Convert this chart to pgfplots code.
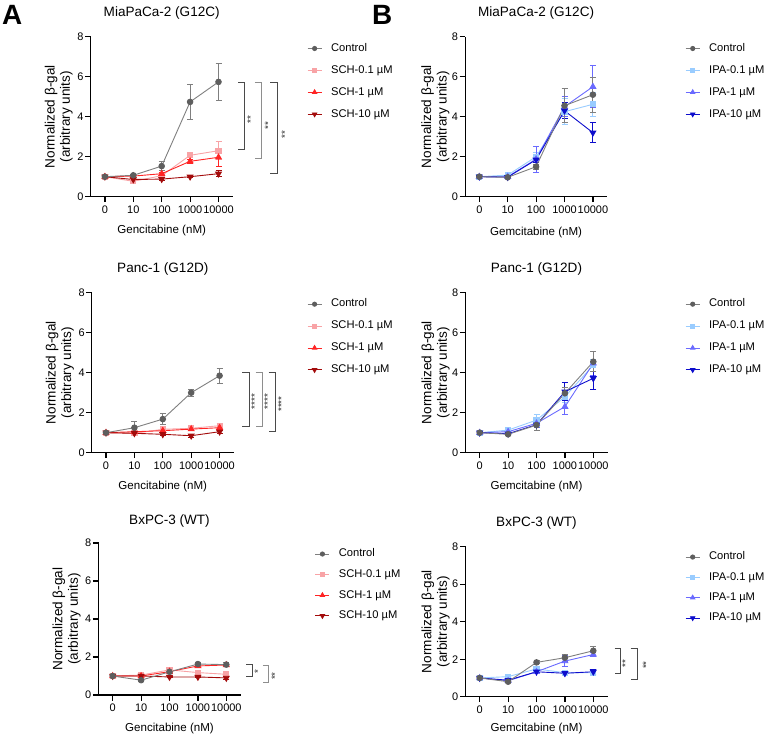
\documentclass[border=0pt]{standalone}
\usepackage{pgfplots}
\pgfplotsset{compat=1.18}
\usepackage{fontspec}
\setmainfont{Liberation Sans}

\definecolor{ctrlline}{HTML}{7F7F7F}
\definecolor{ctrlmark}{HTML}{5E5E5E}
\definecolor{s01}{HTML}{F8A3A6}
\definecolor{s1}{HTML}{FF2424}
\definecolor{s10}{HTML}{A30B0B}
\definecolor{i01}{HTML}{99CCFF}
\definecolor{i1}{HTML}{6A6AFF}
\definecolor{i10}{HTML}{0D0DCC}
\definecolor{brkA}{HTML}{4A4A4A}
\definecolor{brkB}{HTML}{8E8E8E}

\newcommand\fTitle{\fontsize{13.6}{15}\selectfont}
\newcommand\fYlab{\fontsize{13.6}{15.5}\selectfont}
\newcommand\fXlab{\fontsize{11.6}{13}\selectfont}
\newcommand\fTick{\fontsize{11}{12}\selectfont}
\newcommand\fLeg{\fontsize{11.2}{12}\selectfont}
\newcommand\fStar{\fontsize{10}{10}\selectfont}

\pgfplotsset{
  base/.style={
    scale only axis, width=142bp, height=160bp,
    xmin=-0.5, xmax=4.5, ymin=0, ymax=8, clip=false,
    axis x line*=bottom, axis y line*=left,
    axis line style={line width=1.2bp, black, -},
    xtick={0,1,2,3,4}, xticklabels={0,10,100,1000,10000},
    ytick={0,2,4,6,8},
    tick align=outside, major tick length=5.5bp,
    major tick style={line width=1.2bp, black},
    tick label style={font=\fTick},
    /pgf/number format/assume math mode=true,
    xticklabel style={inner sep=3.5bp},
    yticklabel style={inner sep=1.5bp},
    ylabel={Normalized β-gal\\(arbitrary units)},
    ylabel style={align=center, font=\fYlab, at={(axis description cs:-0.225,0.5)}, anchor=center},
    title style={font=\fTitle, at={(axis description cs:0.5,1)}, anchor=center, yshift=18bp},
    xlabel style={font=\fXlab, at={(axis description cs:0.5,0)}, anchor=center, yshift=-34bp},
    legend cell align=left,
    legend style={draw=none, fill=none, font=\fLeg, anchor=north west, inner sep=0pt,
      row sep=11.5bp, column sep=9bp,
      nodes={inner sep=0pt, text height=8bp, text depth=2.4bp}},
    legend image code/.code={\draw[mark repeat=2, mark phase=2, #1, every mark/.append style={scale=0.75}]
      plot coordinates {(0bp,0bp) (7bp,0bp) (14bp,0bp)};},
  },
  ctrl/.style={color=ctrlline, line width=0.9bp, mark=*, mark size=2.8bp, mark options={solid, draw=ctrlmark, fill=ctrlmark}},
  sA/.style={color=s01, line width=0.9bp, mark=square*, mark size=2.6bp, mark options={solid, fill=s01}},
  sB/.style={color=s1, line width=0.9bp, mark=triangle*, mark size=3.3bp, mark options={solid, fill=s1}},
  sC/.style={color=s10, line width=0.9bp, mark=triangle*, mark size=3.3bp, mark options={solid, fill=s10, rotate=180}},
  iA/.style={color=i01, line width=0.9bp, mark=square*, mark size=2.6bp, mark options={solid, fill=i01}},
  iB/.style={color=i1, line width=0.9bp, mark=triangle*, mark size=3.3bp, mark options={solid, fill=i1}},
  iC/.style={color=i10, line width=0.9bp, mark=triangle*, mark size=3.3bp, mark options={solid, fill=i10, rotate=180}},
  eb/.style={/pgfplots/error bars/y dir=both, /pgfplots/error bars/y explicit,
    /pgfplots/error bars/error bar style={line width=0.9bp},
    /pgfplots/error bars/error mark options={rotate=90, mark size=3bp, line width=0.9bp}},
}
\tikzset{brk/.style={draw=brkA, line width=1bp}, brk2/.style={draw=brkB, line width=1bp},
  star/.style={font=\fStar, rotate=90, inner sep=0pt, text=black!80}}

\begin{document}
\begin{tikzpicture}
\useasboundingbox (0,0) rectangle (768bp,-737bp);

\node[anchor=north west, inner sep=0pt, font=\fontsize{28}{28}\selectfont\bfseries] at (2bp,-5bp) {A};
\node[anchor=north west, inner sep=0pt, font=\fontsize{28}{28}\selectfont\bfseries] at (372bp,-5bp) {B};

% ---------------- A1 ----------------
\begin{axis}[base, at={(90.7bp,-196.7bp)}, anchor=south west,
  title={MiaPaCa-2 (G12C)}, xlabel={Gencitabine (nM)},
  legend style={at={(1.523,0.96)}}]
\addlegendimage{ctrl}\addlegendentry{Control}
\addplot[sA, eb] coordinates {(0,1.0) +- (0,0.08) (1,0.77) +- (0,0.05) (2,1.05) +- (0,0.1) (3,2.07) +- (0,0.1) (4,2.3) +- (0,0.45)};
\addlegendentry{SCH-0.1 µM}
\addplot[sB, eb] coordinates {(0,1.0) +- (0,0.05) (1,1.03) +- (0,0.05) (2,1.15) +- (0,0.08) (3,1.77) +- (0,0.1) (4,1.97) +- (0,0.44)};
\addlegendentry{SCH-1 µM}
\addplot[sC, eb] coordinates {(0,1.0) +- (0,0.05) (1,0.86) +- (0,0.05) (2,0.88) +- (0,0.08) (3,1.0) +- (0,0.05) (4,1.15) +- (0,0.15)};
\addlegendentry{SCH-10 µM}
\addplot[ctrl, eb, forget plot] coordinates {(0,1.0) +- (0,0.08) (1,1.07) +- (0,0.05) (2,1.53) +- (0,0.22) (3,4.74) +- (0,0.86) (4,5.74) +- (0,0.92)};
\draw[brk] (axis cs:4.69,5.7) -| (axis cs:4.93,2.37) -- (axis cs:4.69,2.37);
\draw[brk2] (axis cs:5.28,5.7) -| (axis cs:5.52,1.92) -- (axis cs:5.28,1.92);
\draw[brk] (axis cs:5.83,5.7) -| (axis cs:6.07,1.14) -- (axis cs:5.83,1.14);
\node[star] at (axis cs:5.13,3.84) {**};
\node[star] at (axis cs:5.75,3.54) {**};
\node[star] at (axis cs:6.34,3.09) {**};
\end{axis}

% ---------------- A2 ----------------
\begin{axis}[base, at={(91.8bp,-452.7bp)}, anchor=south west,
  title={Panc-1 (G12D)}, xlabel={Gencitabine (nM)},
  legend style={at={(1.515,0.962)}}]
\addlegendimage{ctrl}\addlegendentry{Control}
\addplot[sA, eb] coordinates {(0,1.0) +- (0,0.05) (1,0.97) +- (0,0.1) (2,1.17) +- (0,0.1) (3,1.22) +- (0,0.08) (4,1.35) +- (0,0.1)};
\addlegendentry{SCH-0.1 µM}
\addplot[sB, eb] coordinates {(0,1.0) +- (0,0.05) (1,1.05) +- (0,0.05) (2,1.1) +- (0,0.05) (3,1.18) +- (0,0.05) (4,1.25) +- (0,0.05)};
\addlegendentry{SCH-1 µM}
\addplot[sC, eb] coordinates {(0,1.0) +- (0,0.05) (1,0.97) +- (0,0.05) (2,0.92) +- (0,0.08) (3,0.85) +- (0,0.08) (4,1.05) +- (0,0.08)};
\addlegendentry{SCH-10 µM}
\addplot[ctrl, eb, forget plot] coordinates {(0,1.0) +- (0,0.05) (1,1.25) +- (0,0.33) (2,1.68) +- (0,0.28) (3,3.0) +- (0,0.17) (4,3.85) +- (0,0.38)};
\draw[brk] (axis cs:4.80,4.0) -| (axis cs:5.07,1.33) -- (axis cs:4.80,1.33);
\draw[brk2] (axis cs:5.27,4.0) -| (axis cs:5.51,1.33) -- (axis cs:5.27,1.33);
\draw[brk] (axis cs:5.73,4.0) -| (axis cs:5.98,1.05) -- (axis cs:5.73,1.05);
\node[star] at (axis cs:5.24,2.55) {****};
\node[star] at (axis cs:5.69,2.55) {****};
\node[star] at (axis cs:6.18,2.43) {****};
\end{axis}

% ---------------- A3 ----------------
\begin{axis}[base, at={(98.5bp,-695bp)}, anchor=south west, height=152bp,
  title={BxPC-3 (WT)}, xlabel={Gencitabine (nM)},
  title style={yshift=-1.7bp},
  xlabel style={yshift=0.4bp},
  legend style={at={(1.523,0.963)}, row sep=10.2bp}]
\addlegendimage{ctrl}\addlegendentry{Control}
\addplot[sA, eb] coordinates {(0,1.0) +- (0,0.05) (1,1.05) +- (0,0.05) (2,1.32) +- (0,0.08) (3,1.18) +- (0,0.1) (4,1.09) +- (0,0.1)};
\addlegendentry{SCH-0.1 µM}
\addplot[sB, eb] coordinates {(0,1.0) +- (0,0.05) (1,1.0) +- (0,0.05) (2,1.23) +- (0,0.05) (3,1.53) +- (0,0.1) (4,1.58) +- (0,0.05)};
\addlegendentry{SCH-1 µM}
\addplot[sC, eb] coordinates {(0,1.0) +- (0,0.05) (1,1.0) +- (0,0.05) (2,0.95) +- (0,0.05) (3,0.95) +- (0,0.05) (4,0.9) +- (0,0.06)};
\addlegendentry{SCH-10 µM}
\addplot[ctrl, eb, forget plot] coordinates {(0,1.0) +- (0,0.05) (1,0.78) +- (0,0.05) (2,1.22) +- (0,0.1) (3,1.63) +- (0,0.08) (4,1.6) +- (0,0.12)};
\draw[brk] (axis cs:4.71,1.62) -| (axis cs:4.93,0.96) -- (axis cs:4.71,0.96);
\draw[brk2] (axis cs:5.29,1.53) -| (axis cs:5.50,0.67) -- (axis cs:5.29,0.67);
\node[star] at (axis cs:5.11,1.23) {*};
\node[star] at (axis cs:5.71,1.0) {**};
\end{axis}

% ---------------- B1 ----------------
\begin{axis}[base, at={(465.1bp,-196.7bp)}, anchor=south west,
  title={MiaPaCa-2 (G12C)}, xlabel={Gemcitabine (nM)},
  ylabel style={at={(axis description cs:-0.21,0.5)}},
  title style={yshift=-0.6bp}, xlabel style={yshift=-1.9bp},
  legend style={at={(1.549,0.96)}}]
\addlegendimage{ctrl}\addlegendentry{Control}
\addplot[iA, eb] coordinates {(0,1.0) +- (0,0.05) (1,1.08) +- (0,0.05) (2,2.0) +- (0,0.2) (3,4.25) +- (0,0.65) (4,4.62) +- (0,0.6)};
\addlegendentry{IPA-0.1 µM}
\addplot[iB, eb] coordinates {(0,1.0) +- (0,0.05) (1,1.0) +- (0,0.05) (2,1.88) +- (0,0.65) (3,4.5) +- (0,0.5) (4,5.5) +- (0,1.05)};
\addlegendentry{IPA-1 µM}
\addplot[iC, eb] coordinates {(0,1.0) +- (0,0.05) (1,0.98) +- (0,0.05) (2,1.85) +- (0,0.15) (3,4.3) +- (0,0.4) (4,3.2) +- (0,0.5)};
\addlegendentry{IPA-10 µM}
\addplot[ctrl, eb, forget plot] coordinates {(0,1.0) +- (0,0.08) (1,0.97) +- (0,0.05) (2,1.5) +- (0,0.12) (3,4.55) +- (0,0.85) (4,5.1) +- (0,0.88)};
\end{axis}

% ---------------- B2 ----------------
\begin{axis}[base, at={(465.5bp,-452.7bp)}, anchor=south west,
  title={Panc-1 (G12D)}, xlabel={Gemcitabine (nM)},
  ylabel style={at={(axis description cs:-0.21,0.5)}},
  legend style={at={(1.546,0.962)}}]
\addlegendimage{ctrl}\addlegendentry{Control}
\addplot[iA, eb] coordinates {(0,1.0) +- (0,0.05) (1,1.13) +- (0,0.05) (2,1.63) +- (0,0.3) (3,2.8) +- (0,0.3) (4,4.38) +- (0,0.3)};
\addlegendentry{IPA-0.1 µM}
\addplot[iB, eb] coordinates {(0,1.0) +- (0,0.05) (1,1.05) +- (0,0.05) (2,1.47) +- (0,0.2) (3,2.3) +- (0,0.38) (4,4.47) +- (0,0.6)};
\addlegendentry{IPA-1 µM}
\addplot[iC, eb] coordinates {(0,1.0) +- (0,0.05) (1,0.95) +- (0,0.05) (2,1.4) +- (0,0.3) (3,3.05) +- (0,0.45) (4,3.72) +- (0,0.55)};
\addlegendentry{IPA-10 µM}
\addplot[ctrl, eb, forget plot] coordinates {(0,1.0) +- (0,0.05) (1,0.92) +- (0,0.05) (2,1.38) +- (0,0.25) (3,2.97) +- (0,0.3) (4,4.55) +- (0,0.5)};
\end{axis}

% ---------------- B3 ----------------
\begin{axis}[base, at={(465.5bp,-696.7bp)}, anchor=south west, height=150bp,
  title={BxPC-3 (WT)}, xlabel={Gemcitabine (nM)},
  ylabel style={at={(axis description cs:-0.21,0.5)}},
  title style={yshift=-0.6bp}, xlabel style={yshift=2.1bp},
  legend style={at={(1.546,0.967)}, row sep=9.9bp}]
\addlegendimage{ctrl}\addlegendentry{Control}
\addplot[iA, eb] coordinates {(0,1.0) +- (0,0.05) (1,1.07) +- (0,0.05) (2,1.48) +- (0,0.15) (3,1.28) +- (0,0.1) (4,1.28) +- (0,0.15)};
\addlegendentry{IPA-0.1 µM}
\addplot[iB, eb] coordinates {(0,1.0) +- (0,0.05) (1,0.85) +- (0,0.05) (2,1.33) +- (0,0.1) (3,1.9) +- (0,0.3) (4,2.25) +- (0,0.12)};
\addlegendentry{IPA-1 µM}
\addplot[iC, eb] coordinates {(0,1.0) +- (0,0.05) (1,0.88) +- (0,0.05) (2,1.33) +- (0,0.05) (3,1.25) +- (0,0.08) (4,1.33) +- (0,0.15)};
\addlegendentry{IPA-10 µM}
\addplot[ctrl, eb, forget plot] coordinates {(0,1.0) +- (0,0.05) (1,0.8) +- (0,0.05) (2,1.83) +- (0,0.08) (3,2.08) +- (0,0.2) (4,2.45) +- (0,0.25)};
\draw[brk] (axis cs:4.75,2.58) -| (axis cs:4.95,1.24) -- (axis cs:4.75,1.24);
\draw[brk] (axis cs:5.31,2.58) -| (axis cs:5.57,0.92) -- (axis cs:5.31,0.92);
\node[star] at (axis cs:5.13,1.78) {**};
\node[star] at (axis cs:5.86,1.69) {**};
\end{axis}
\end{tikzpicture}
\end{document}
